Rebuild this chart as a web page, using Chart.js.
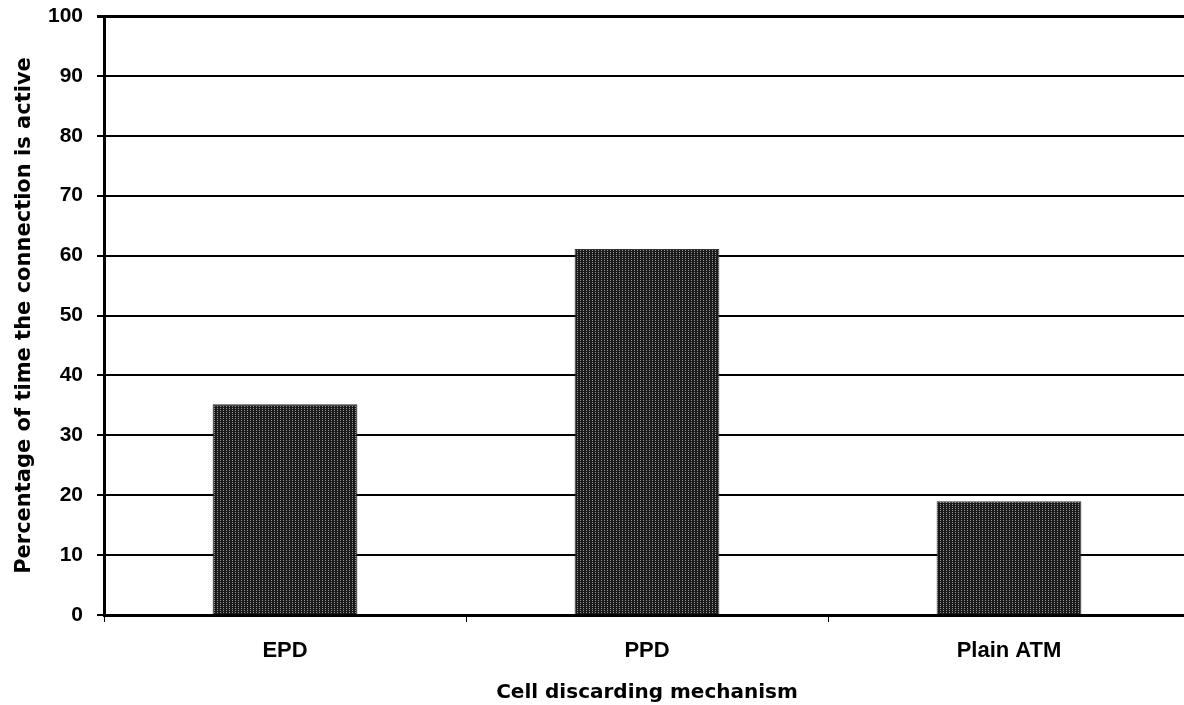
<!DOCTYPE html>
<html>
<head>
<meta charset="utf-8">
<script src="https://cdn.jsdelivr.net/npm/chart.js@4/dist/chart.umd.min.js"></script>
<style>
  html, body { margin: 0; padding: 0; background: #fff; overflow: hidden; }
  #wrap { width: 1184px; height: 705px; overflow: hidden; }
  canvas { display: block; }
</style>
</head>
<body>
<div id="wrap"><canvas id="c" width="1190" height="705"></canvas></div>
<script>
// Categories and measured values
const categories = ["EPD", "PPD", "Plain ATM"];
const activePercent = [35.2, 61.1, 19.0];
const yTicks = [0, 10, 20, 30, 40, 50, 60, 70, 80, 90, 100];

// Stippled dark fill for the bars
function stipple() {
  const p = document.createElement("canvas");
  p.width = 3; p.height = 2;
  const g = p.getContext("2d");
  g.fillStyle = "#1a1a1a";
  g.fillRect(0, 0, 3, 2);
  g.fillStyle = "#959595";
  g.fillRect(1, 0, 1, 1);
  return g.createPattern(p, "repeat");
}

const ctx = document.getElementById("c").getContext("2d");
const tickFont = { family: "'Liberation Sans', Arial, sans-serif", weight: "bold" };
const titleFont = { family: "'DejaVu Sans', sans-serif", weight: "bold" };

new Chart(ctx, {
  type: "bar",
  data: {
    labels: categories,
    datasets: [{
      data: activePercent,
      backgroundColor: stipple(),
      borderColor: "#333",
      borderWidth: 1,
      categoryPercentage: 1,
      barPercentage: 0.4
    }]
  },
  options: {
    responsive: false,
    animation: false,
    layout: { padding: { top: 16, left: 12, right: 0, bottom: 0 } },
    plugins: { legend: { display: false }, tooltip: { enabled: false } },
    scales: {
      x: {
        grid: { display: true, drawOnChartArea: false, color: "#000", lineWidth: 1, tickLength: 7, offset: true },
        border: { display: true, color: "#000", width: 3 },
        ticks: { color: "#000", font: { ...tickFont, size: 22 }, padding: 16 },
        title: { display: true, text: "Cell discarding mechanism", color: "#000", font: { ...titleFont, size: 20 }, padding: { top: 8, bottom: 0 } },
        afterFit: s => { s.height = 90; s.paddingLeft = 0; s.paddingRight = 0; }
      },
      y: {
        min: 0, max: 100,
        afterBuildTicks: s => { s.ticks = yTicks.map(v => ({ value: v })); },
        grid: { color: "#000", lineWidth: c => (c.tick && c.tick.value === 100 ? 3 : 2), tickLength: 7 },
        border: { display: true, color: "#000", width: 3 },
        ticks: { color: "#000", font: { ...tickFont, size: 21 }, padding: 14 },
        title: { display: true, text: "Percentage of time the connection is active", color: "#000", font: { ...titleFont, size: 21 }, padding: { top: 0, bottom: 7 } },
        afterFit: s => { s.width = 92; s.paddingTop = 0; s.paddingBottom = 0; }
      }
    }
  }
});
</script>
</body>
</html>
